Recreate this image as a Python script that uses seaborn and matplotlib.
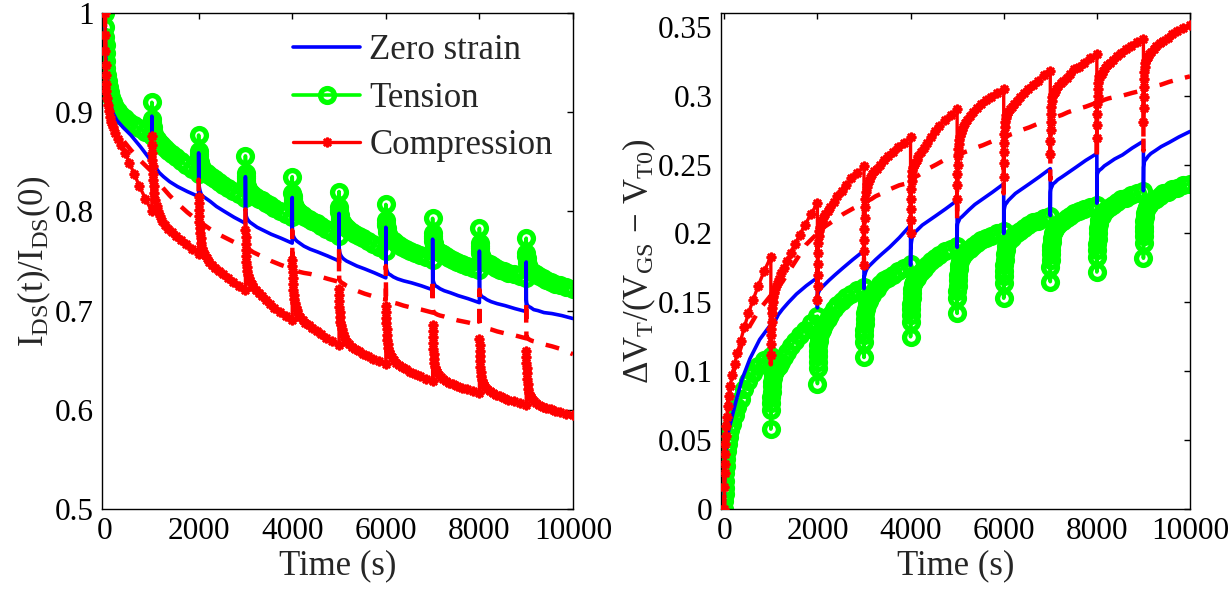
import matplotlib
matplotlib.use("Agg")
import matplotlib.pyplot as plt
import pandas as pd
import seaborn as sns
from matplotlib.ticker import FixedLocator, FixedFormatter

# ---------------- data ----------------
# each stress cycle starts at these times (s)
cycle_starts = [0, 1000, 2000, 3000, 4000, 5000, 6000, 7000, 8000, 9000]
# offsets (s) within a cycle at which the plain lines were read
seg_offsets = [0, 4, 10, 20, 35, 60, 100, 160, 250, 380, 550, 760, 1000]
# offsets (s) within a cycle at which the marker series were read (denser sampling)
seg_offsets_fine = [0, 3, 6, 10, 15, 22, 30, 40, 55, 75, 100, 130, 170, 220, 280, 350,
                    430, 520, 620, 730, 860, 1000]

# Left panel: I_DS(t)/I_DS(0)
left_zero_strain = [
    [1.0, 0.98, 0.962, 0.947, 0.934, 0.922, 0.912, 0.90, 0.892, 0.885, 0.877, 0.865, 0.850],
    [0.896, 0.858, 0.855, 0.852, 0.849, 0.846, 0.843, 0.839, 0.835, 0.830, 0.825, 0.820, 0.815],
    [0.859, 0.829, 0.826, 0.823, 0.820, 0.817, 0.815, 0.813, 0.810, 0.805, 0.800, 0.794, 0.788],
    [0.835, 0.801, 0.798, 0.795, 0.793, 0.791, 0.789, 0.787, 0.784, 0.781, 0.777, 0.773, 0.768],
    [0.814, 0.781, 0.778, 0.776, 0.774, 0.772, 0.770, 0.768, 0.765, 0.762, 0.759, 0.755, 0.750],
    [0.798, 0.763, 0.760, 0.758, 0.756, 0.754, 0.752, 0.750, 0.748, 0.745, 0.742, 0.738, 0.733],
    [0.784, 0.746, 0.743, 0.741, 0.739, 0.737, 0.736, 0.734, 0.732, 0.730, 0.728, 0.725, 0.721],
    [0.772, 0.734, 0.731, 0.729, 0.727, 0.725, 0.724, 0.722, 0.720, 0.718, 0.715, 0.712, 0.708],
    [0.760, 0.722, 0.719, 0.717, 0.715, 0.714, 0.713, 0.711, 0.709, 0.707, 0.705, 0.702, 0.699],
    [0.749, 0.711, 0.708, 0.706, 0.705, 0.704, 0.703, 0.701, 0.700, 0.698, 0.697, 0.695, 0.692],
]
left_tension = [
    [1.0, 0.986, 0.976, 0.968, 0.960, 0.952, 0.945, 0.938, 0.931, 0.925, 0.920, 0.915, 0.910, 0.905, 0.901, 0.897, 0.894, 0.890, 0.887, 0.884, 0.880, 0.876],
    [0.91, 0.893, 0.890, 0.888, 0.885, 0.882, 0.880, 0.878, 0.876, 0.874, 0.873, 0.871, 0.869, 0.867, 0.864, 0.861, 0.858, 0.855, 0.851, 0.847, 0.843, 0.838],
    [0.877, 0.861, 0.858, 0.856, 0.853, 0.850, 0.848, 0.846, 0.845, 0.843, 0.842, 0.840, 0.839, 0.837, 0.835, 0.833, 0.830, 0.827, 0.824, 0.821, 0.818, 0.814],
    [0.856, 0.839, 0.836, 0.834, 0.831, 0.828, 0.826, 0.824, 0.823, 0.821, 0.820, 0.818, 0.817, 0.815, 0.813, 0.811, 0.808, 0.806, 0.803, 0.800, 0.797, 0.794],
    [0.835, 0.819, 0.816, 0.814, 0.811, 0.809, 0.807, 0.805, 0.804, 0.802, 0.801, 0.799, 0.798, 0.796, 0.794, 0.792, 0.790, 0.788, 0.785, 0.782, 0.779, 0.775],
    [0.820, 0.804, 0.801, 0.799, 0.796, 0.794, 0.792, 0.790, 0.789, 0.787, 0.786, 0.784, 0.783, 0.781, 0.779, 0.777, 0.775, 0.773, 0.770, 0.767, 0.764, 0.760],
    [0.807, 0.791, 0.788, 0.786, 0.783, 0.781, 0.779, 0.777, 0.776, 0.774, 0.773, 0.771, 0.770, 0.768, 0.766, 0.764, 0.762, 0.760, 0.758, 0.756, 0.754, 0.751],
    [0.793, 0.778, 0.775, 0.773, 0.770, 0.768, 0.766, 0.764, 0.763, 0.761, 0.760, 0.759, 0.758, 0.757, 0.755, 0.753, 0.751, 0.749, 0.747, 0.745, 0.743, 0.741],
    [0.783, 0.768, 0.765, 0.763, 0.760, 0.758, 0.756, 0.754, 0.753, 0.751, 0.750, 0.749, 0.748, 0.747, 0.745, 0.743, 0.741, 0.740, 0.738, 0.737, 0.735, 0.733],
    [0.773, 0.758, 0.755, 0.753, 0.750, 0.748, 0.746, 0.744, 0.743, 0.741, 0.740, 0.739, 0.738, 0.737, 0.735, 0.733, 0.731, 0.729, 0.727, 0.726, 0.724, 0.722],
]
left_compression = [
    [1.0, 0.978, 0.962, 0.948, 0.938, 0.928, 0.921, 0.914, 0.907, 0.901, 0.895, 0.890, 0.885, 0.879, 0.873, 0.867, 0.859, 0.849, 0.838, 0.826, 0.813, 0.800],
    [0.876, 0.867, 0.859, 0.852, 0.846, 0.838, 0.832, 0.826, 0.819, 0.811, 0.805, 0.800, 0.795, 0.790, 0.786, 0.782, 0.779, 0.775, 0.771, 0.767, 0.762, 0.757],
    [0.815, 0.808, 0.801, 0.795, 0.789, 0.783, 0.778, 0.773, 0.768, 0.763, 0.760, 0.756, 0.753, 0.749, 0.746, 0.743, 0.740, 0.737, 0.733, 0.729, 0.725, 0.721],
    [0.781, 0.774, 0.767, 0.761, 0.755, 0.749, 0.744, 0.740, 0.736, 0.733, 0.730, 0.727, 0.724, 0.721, 0.718, 0.715, 0.711, 0.707, 0.703, 0.699, 0.695, 0.691],
    [0.751, 0.745, 0.739, 0.733, 0.727, 0.721, 0.716, 0.712, 0.708, 0.704, 0.701, 0.697, 0.694, 0.691, 0.688, 0.685, 0.682, 0.679, 0.676, 0.672, 0.669, 0.665],
    [0.722, 0.716, 0.710, 0.704, 0.699, 0.694, 0.689, 0.685, 0.681, 0.677, 0.674, 0.671, 0.668, 0.666, 0.663, 0.661, 0.659, 0.656, 0.654, 0.651, 0.649, 0.646],
    [0.705, 0.699, 0.693, 0.687, 0.681, 0.675, 0.670, 0.666, 0.662, 0.659, 0.656, 0.653, 0.650, 0.647, 0.645, 0.643, 0.641, 0.638, 0.636, 0.634, 0.631, 0.629],
    [0.685, 0.679, 0.673, 0.667, 0.661, 0.656, 0.651, 0.647, 0.643, 0.640, 0.638, 0.635, 0.633, 0.631, 0.629, 0.627, 0.626, 0.624, 0.622, 0.621, 0.619, 0.617],
    [0.671, 0.665, 0.659, 0.654, 0.649, 0.643, 0.638, 0.634, 0.630, 0.627, 0.625, 0.623, 0.621, 0.619, 0.617, 0.615, 0.614, 0.612, 0.610, 0.609, 0.607, 0.605],
    [0.659, 0.653, 0.647, 0.642, 0.637, 0.631, 0.626, 0.621, 0.617, 0.614, 0.613, 0.611, 0.609, 0.607, 0.605, 0.603, 0.602, 0.601, 0.599, 0.598, 0.596, 0.595],
]
left_compression_dashed = [
    [1.0, 0.975, 0.955, 0.94, 0.927, 0.915, 0.904, 0.893, 0.882, 0.872, 0.862, 0.851, 0.84],
    [0.876, 0.843, 0.841, 0.839, 0.837, 0.835, 0.832, 0.828, 0.823, 0.816, 0.808, 0.799, 0.79],
    [0.832, 0.793, 0.792, 0.791, 0.79, 0.789, 0.787, 0.785, 0.782, 0.778, 0.774, 0.769, 0.763],
    [0.802, 0.766, 0.765, 0.764, 0.763, 0.762, 0.761, 0.759, 0.757, 0.754, 0.75, 0.746, 0.742],
    [0.781, 0.745, 0.744, 0.743, 0.742, 0.741, 0.740, 0.739, 0.738, 0.737, 0.735, 0.732, 0.729],
    [0.764, 0.732, 0.731, 0.73, 0.729, 0.728, 0.727, 0.725, 0.723, 0.72, 0.717, 0.714, 0.711],
    [0.745, 0.714, 0.713, 0.712, 0.711, 0.71, 0.709, 0.708, 0.707, 0.705, 0.703, 0.701, 0.698],
    [0.733, 0.701, 0.7, 0.699, 0.698, 0.697, 0.696, 0.695, 0.694, 0.692, 0.69, 0.688, 0.685],
    [0.721, 0.688, 0.687, 0.686, 0.685, 0.684, 0.683, 0.682, 0.681, 0.679, 0.677, 0.675, 0.672],
    [0.71, 0.675, 0.674, 0.673, 0.672, 0.671, 0.67, 0.669, 0.668, 0.666, 0.664, 0.661, 0.656],
]

# Right panel: dV_T/(V_GS - V_T0)
right_zero_strain = [
    [0.0, 0.014, 0.025, 0.035, 0.043, 0.051, 0.058, 0.066, 0.078, 0.094, 0.109, 0.123, 0.134],
    [0.112, 0.125, 0.127, 0.129, 0.131, 0.134, 0.137, 0.141, 0.145, 0.150, 0.156, 0.162, 0.168],
    [0.146, 0.155, 0.156, 0.157, 0.158, 0.160, 0.161, 0.163, 0.166, 0.170, 0.175, 0.181, 0.1875],
    [0.160, 0.168, 0.169, 0.170, 0.172, 0.174, 0.176, 0.178, 0.181, 0.185, 0.190, 0.197, 0.206],
    [0.177, 0.188, 0.191, 0.194, 0.197, 0.199, 0.201, 0.203, 0.206, 0.209, 0.213, 0.218, 0.224],
    [0.190, 0.205, 0.207, 0.208, 0.209, 0.211, 0.212, 0.214, 0.217, 0.221, 0.225, 0.230, 0.236],
    [0.200, 0.215, 0.217, 0.219, 0.221, 0.222, 0.224, 0.226, 0.229, 0.232, 0.236, 0.241, 0.247],
    [0.213, 0.230, 0.232, 0.233, 0.234, 0.236, 0.237, 0.239, 0.241, 0.244, 0.248, 0.253, 0.258],
    [0.222, 0.241, 0.243, 0.244, 0.245, 0.246, 0.247, 0.249, 0.251, 0.254, 0.257, 0.262, 0.267],
    [0.231, 0.248, 0.250, 0.252, 0.253, 0.254, 0.256, 0.258, 0.260, 0.263, 0.266, 0.270, 0.274],
]
right_tension = [
    [0.0, 0.006, 0.011, 0.015, 0.020, 0.026, 0.031, 0.036, 0.042, 0.047, 0.052, 0.057, 0.062, 0.068, 0.074, 0.080, 0.087, 0.093, 0.099, 0.104, 0.108, 0.111],
    [0.058, 0.072, 0.077, 0.081, 0.085, 0.089, 0.092, 0.095, 0.097, 0.099, 0.100, 0.102, 0.104, 0.107, 0.110, 0.114, 0.118, 0.122, 0.126, 0.130, 0.135, 0.140],
    [0.091, 0.102, 0.107, 0.111, 0.115, 0.119, 0.122, 0.125, 0.127, 0.129, 0.130, 0.132, 0.135, 0.138, 0.141, 0.145, 0.148, 0.151, 0.154, 0.156, 0.159, 0.161],
    [0.110, 0.121, 0.126, 0.130, 0.134, 0.138, 0.142, 0.145, 0.148, 0.150, 0.151, 0.153, 0.155, 0.158, 0.160, 0.163, 0.166, 0.168, 0.170, 0.173, 0.175, 0.178],
    [0.125, 0.136, 0.141, 0.145, 0.149, 0.153, 0.157, 0.160, 0.163, 0.165, 0.166, 0.168, 0.170, 0.172, 0.174, 0.177, 0.180, 0.182, 0.184, 0.187, 0.189, 0.191],
    [0.142, 0.153, 0.158, 0.162, 0.166, 0.170, 0.174, 0.177, 0.180, 0.182, 0.183, 0.185, 0.186, 0.188, 0.189, 0.191, 0.193, 0.195, 0.197, 0.198, 0.200, 0.202],
    [0.153, 0.164, 0.169, 0.173, 0.177, 0.181, 0.185, 0.188, 0.191, 0.193, 0.194, 0.196, 0.197, 0.199, 0.200, 0.202, 0.204, 0.206, 0.208, 0.209, 0.211, 0.213],
    [0.165, 0.176, 0.181, 0.185, 0.188, 0.191, 0.194, 0.197, 0.200, 0.202, 0.203, 0.205, 0.206, 0.208, 0.209, 0.211, 0.213, 0.215, 0.216, 0.218, 0.219, 0.221],
    [0.172, 0.183, 0.188, 0.192, 0.196, 0.200, 0.204, 0.207, 0.210, 0.212, 0.213, 0.215, 0.216, 0.218, 0.219, 0.221, 0.223, 0.225, 0.226, 0.228, 0.229, 0.231],
    [0.182, 0.193, 0.198, 0.202, 0.205, 0.209, 0.212, 0.215, 0.217, 0.219, 0.220, 0.221, 0.223, 0.224, 0.225, 0.227, 0.229, 0.230, 0.232, 0.233, 0.235, 0.236],
]
right_compression = [
    [0.0, 0.016, 0.026, 0.033, 0.040, 0.047, 0.053, 0.060, 0.067, 0.075, 0.082, 0.089, 0.097, 0.105, 0.113, 0.122, 0.132, 0.142, 0.152, 0.162, 0.173, 0.183],
    [0.112, 0.120, 0.126, 0.131, 0.136, 0.142, 0.146, 0.150, 0.154, 0.157, 0.160, 0.163, 0.167, 0.171, 0.175, 0.180, 0.186, 0.192, 0.199, 0.206, 0.214, 0.222],
    [0.152, 0.162, 0.170, 0.178, 0.186, 0.193, 0.198, 0.202, 0.205, 0.207, 0.209, 0.211, 0.214, 0.216, 0.219, 0.223, 0.227, 0.231, 0.235, 0.240, 0.244, 0.249],
    [0.177, 0.187, 0.195, 0.203, 0.211, 0.219, 0.225, 0.230, 0.234, 0.236, 0.238, 0.240, 0.243, 0.245, 0.247, 0.250, 0.253, 0.256, 0.259, 0.263, 0.266, 0.270],
    [0.200, 0.210, 0.218, 0.225, 0.232, 0.238, 0.242, 0.245, 0.248, 0.250, 0.251, 0.253, 0.256, 0.259, 0.262, 0.266, 0.270, 0.274, 0.278, 0.282, 0.286, 0.290],
    [0.225, 0.235, 0.243, 0.250, 0.256, 0.261, 0.265, 0.268, 0.271, 0.273, 0.275, 0.277, 0.280, 0.282, 0.285, 0.288, 0.291, 0.294, 0.297, 0.299, 0.302, 0.305],
    [0.241, 0.251, 0.259, 0.266, 0.272, 0.277, 0.281, 0.284, 0.286, 0.287, 0.288, 0.290, 0.292, 0.294, 0.296, 0.299, 0.302, 0.305, 0.308, 0.311, 0.315, 0.318],
    [0.258, 0.267, 0.275, 0.281, 0.287, 0.292, 0.296, 0.299, 0.301, 0.302, 0.303, 0.305, 0.307, 0.309, 0.311, 0.313, 0.316, 0.319, 0.321, 0.324, 0.327, 0.330],
    [0.269, 0.279, 0.287, 0.294, 0.300, 0.305, 0.309, 0.312, 0.314, 0.315, 0.316, 0.318, 0.320, 0.322, 0.324, 0.326, 0.329, 0.331, 0.334, 0.336, 0.339, 0.341],
    [0.281, 0.291, 0.299, 0.306, 0.312, 0.317, 0.321, 0.324, 0.326, 0.327, 0.328, 0.330, 0.332, 0.334, 0.336, 0.338, 0.340, 0.342, 0.345, 0.347, 0.349, 0.351],
]
right_compression_dashed = [
    [0.0, 0.03, 0.045, 0.055, 0.063, 0.072, 0.082, 0.094, 0.107, 0.12, 0.133, 0.145, 0.155],
    [0.105, 0.152, 0.153, 0.154, 0.155, 0.156, 0.158, 0.161, 0.165, 0.172, 0.181, 0.192, 0.20],
    [0.15, 0.198, 0.199, 0.2, 0.201, 0.202, 0.203, 0.205, 0.207, 0.21, 0.214, 0.218, 0.222],
    [0.175, 0.22, 0.221, 0.221, 0.222, 0.223, 0.224, 0.225, 0.227, 0.229, 0.232, 0.235, 0.237],
    [0.196, 0.236, 0.237, 0.238, 0.239, 0.24, 0.241, 0.242, 0.244, 0.247, 0.25, 0.254, 0.257],
    [0.209, 0.256, 0.256, 0.257, 0.257, 0.258, 0.258, 0.259, 0.26, 0.262, 0.264, 0.267, 0.269],
    [0.229, 0.268, 0.268, 0.269, 0.269, 0.27, 0.271, 0.272, 0.273, 0.275, 0.277, 0.28, 0.283],
    [0.239, 0.282, 0.282, 0.283, 0.283, 0.284, 0.284, 0.285, 0.286, 0.288, 0.29, 0.292, 0.295],
    [0.253, 0.294, 0.294, 0.295, 0.295, 0.296, 0.296, 0.297, 0.298, 0.299, 0.30, 0.302, 0.304],
    [0.26, 0.303, 0.303, 0.304, 0.304, 0.305, 0.305, 0.306, 0.307, 0.308, 0.31, 0.312, 0.314],
]

x_ticks = [0, 2000, 4000, 6000, 8000, 10000]
x_tick_labels = ["0", "2000", "4000", "6000", "8000", "10000"]
left_y_ticks = [0.5, 0.6, 0.7, 0.8, 0.9, 1.0]
left_y_tick_labels = ["0.5", "0.6", "0.7", "0.8", "0.9", "1"]
right_y_ticks = [0, 0.05, 0.1, 0.15, 0.2, 0.25, 0.3, 0.35]
right_y_tick_labels = ["0", "0.05", "0.1", "0.15", "0.2", "0.25", "0.3", "0.35"]
legend_labels = ["Zero strain", "Tension", "Compression"]

# ---------------- style ----------------
sns.set_theme(style="white")
plt.rcParams.update({
    "font.family": ["Liberation Serif", "DejaVu Serif"],
    "mathtext.fontset": "custom",
    "mathtext.rm": "Liberation Serif",
    "mathtext.it": "Liberation Serif:italic",
    "mathtext.bf": "Liberation Serif:bold",
    "lines.scale_dashes": False,
    "axes.edgecolor": "black",
    "axes.linewidth": 1.0,
    "xtick.direction": "in",
    "ytick.direction": "in",
    "xtick.top": True,
    "ytick.right": True,
    "xtick.color": "black",
    "ytick.color": "black",
})

BLUE, GREEN, RED = "#0000ff", "#00ff00", "#ff0000"


def series_frame(segments, offsets):
    t, v = [], []
    for start, vals in zip(cycle_starts, segments):
        for off, val in zip(offsets, vals):
            t.append(start + off)
            v.append(val)
    return pd.DataFrame({"t": t, "v": v})


def draw(ax, segments, offsets, **kw):
    sns.lineplot(data=series_frame(segments, offsets), x="t", y="v", ax=ax, sort=False,
                 estimator=None, legend=False, **kw)
    return ax.lines[-1]


fig = plt.figure(figsize=(12.3, 5.93), dpi=100)
ax1 = fig.add_axes([102 / 1230, 84 / 593, 471 / 1230, 496 / 593])
ax2 = fig.add_axes([721 / 1230, 84 / 593, 469 / 1230, 496 / 593])

green_kw = dict(color=GREEN, lw=2.6, marker="o", markersize=10, markerfacecolor="none",
                markeredgecolor=GREEN, markeredgewidth=3.8, zorder=2)
blue_kw = dict(color=BLUE, lw=2.6, zorder=3)
red_kw = dict(color=RED, lw=2.4, marker=(8, 2, 0), markersize=7, markeredgecolor=RED,
              markeredgewidth=1.8, zorder=4)
dash_kw = dict(color=RED, lw=3.2, zorder=5)

handles = []
for ax, zs, te, co, da in [
    (ax1, left_zero_strain, left_tension, left_compression, left_compression_dashed),
    (ax2, right_zero_strain, right_tension, right_compression, right_compression_dashed),
]:
    lg = draw(ax, te, seg_offsets_fine, **green_kw)
    lb = draw(ax, zs, seg_offsets, **blue_kw)
    lr = draw(ax, co, seg_offsets_fine, **red_kw)
    ld = draw(ax, da, seg_offsets, **dash_kw)
    ld.set_linestyle((0, (10, 9)))
    if ax is ax1:
        handles = [lb, lg, lr]

for ax in (ax1, ax2):
    ax.xaxis.set_major_locator(FixedLocator(x_ticks))
    ax.xaxis.set_major_formatter(FixedFormatter(x_tick_labels))
    ax.tick_params(axis="both", which="major", length=4, width=1, labelsize=22.5, pad=6,
                   direction="in", top=True, right=True)
    ax.set_xlabel("Time (s)", fontsize=25, labelpad=2)
    for s in ax.spines.values():
        s.set_visible(True)
        s.set_color("black")
        s.set_linewidth(1.0)
    ax.grid(False)

ax1.set_xlim(-65, 10000)
ax2.set_xlim(-70, 10000)
ax1.set_ylim(0.5, 1.0)
ax1.yaxis.set_major_locator(FixedLocator(left_y_ticks))
ax1.yaxis.set_major_formatter(FixedFormatter(left_y_tick_labels))
ax2.set_ylim(0, 0.36)
ax2.yaxis.set_major_locator(FixedLocator(right_y_ticks))
ax2.yaxis.set_major_formatter(FixedFormatter(right_y_tick_labels))

ax1.set_ylabel(r"$\mathrm{I_{DS}(t)/I_{DS}(0)}$", fontsize=25, labelpad=1)
ax2.set_ylabel(r"$\Delta\mathrm{V_T/(V_{GS}}\,-\,\mathrm{V_{T0})}$", fontsize=25, labelpad=0)

ax1.legend(handles=handles, labels=legend_labels, loc="upper left",
           bbox_to_anchor=(0.405, 0.957), frameon=False, fontsize=25,
           handlelength=1.95, handletextpad=0.25, labelspacing=0.42,
           borderpad=0, borderaxespad=0, numpoints=1)

fig.savefig("out.png", dpi=100)
